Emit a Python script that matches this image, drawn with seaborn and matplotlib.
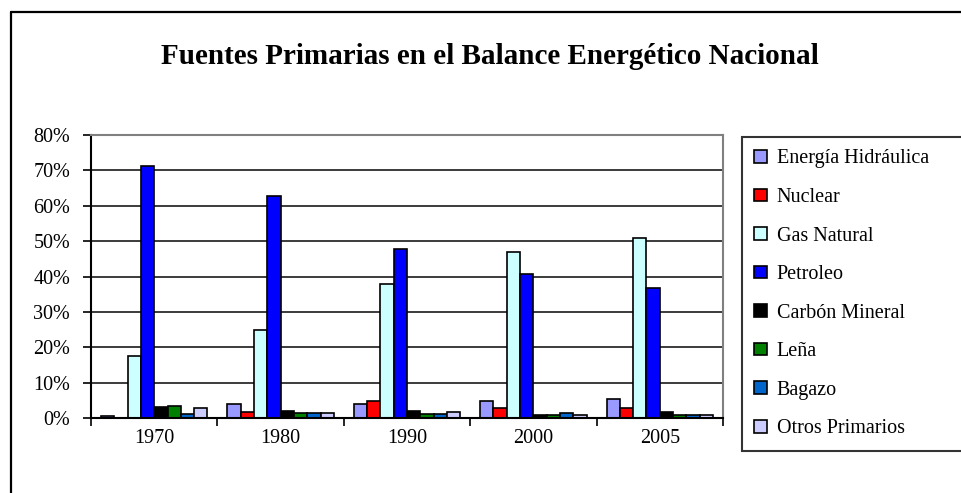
import matplotlib
matplotlib.use("Agg")
import matplotlib.pyplot as plt
import seaborn as sns
import pandas as pd
from matplotlib.lines import Line2D
from matplotlib.ticker import FuncFormatter, FixedLocator

years = ["1970", "1980", "1990", "2000", "2005"]
sources = ["Energía Hidráulica", "Nuclear", "Gas Natural", "Petroleo",
           "Carbón Mineral", "Leña", "Bagazo", "Otros Primarios"]
hidraulica = [0.5, 3.9, 3.9, 4.8, 5.3]
nuclear = [0.0, 1.8, 4.8, 2.8, 2.9]
gas_natural = [17.6, 24.9, 37.9, 46.8, 50.8]
petroleo = [71.3, 62.7, 47.9, 40.7, 36.8]
carbon = [3.0, 2.1, 2.1, 0.9, 1.6]
lena = [3.5, 1.4, 1.1, 0.9, 0.9]
bagazo = [1.0, 1.4, 1.1, 1.4, 0.9]
otros = [2.9, 1.4, 1.6, 0.9, 0.9]
colors = ["#9999FF", "#FF0000", "#CCFFFF", "#0000FF",
          "#000000", "#008000", "#0066CC", "#CCCCFF"]
title = "Fuentes Primarias en el Balance Energético Nacional"

series = [hidraulica, nuclear, gas_natural, petroleo, carbon, lena, bagazo, otros]
rows = []
for s, vals in zip(sources, series):
    for y, v in zip(years, vals):
        rows.append({"Año": y, "Fuente": s, "Valor": v})
df = pd.DataFrame(rows)

sns.set_theme(style="white")
plt.rcParams["font.family"] = ["Liberation Serif", "DejaVu Serif"]
plt.rcParams["text.color"] = "black"
plt.rcParams["xtick.color"] = "black"
plt.rcParams["ytick.color"] = "black"
plt.rcParams["axes.labelcolor"] = "black"

W, H = 961, 493
fig = plt.figure(figsize=(W / 100, H / 100), dpi=100)
ax = fig.add_axes([91 / W, 1 - 418 / H, (723 - 91) / W, (418 - 135) / H])

sns.barplot(data=df, x="Año", y="Valor", hue="Fuente", hue_order=sources,
            order=years, palette=colors, width=8 / 9.5, edgecolor="black",
            linewidth=1.2, saturation=1, ax=ax, legend=True)

ax.set_ylim(0, 80)
ax.set_xlim(-0.5, 4.5)
ax.set_xlabel("")
ax.set_ylabel("")
ax.set_yticks(range(0, 81, 10))
ax.yaxis.set_major_formatter(FuncFormatter(lambda v, p: f"{v:.0f}%"))
ax.yaxis.grid(True, color="#1a1a1a", linewidth=1.2)
ax.set_axisbelow(True)

ax.tick_params(axis="y", which="major", direction="out", length=6, width=1.2,
               color="black", pad=9, labelsize=14.5, left=True)
ax.tick_params(axis="x", which="major", length=0, pad=8, labelsize=14.5)
ax.xaxis.set_minor_locator(FixedLocator([-0.5, 0.5, 1.5, 2.5, 3.5, 4.5]))
ax.tick_params(axis="x", which="minor", direction="out", length=6, width=1.2,
               color="black", bottom=True)

for side in ["left", "bottom"]:
    ax.spines[side].set_color("black")
    ax.spines[side].set_linewidth(1.5)
for side in ["top", "right"]:
    ax.spines[side].set_color("#808080")
    ax.spines[side].set_linewidth(1.5)

handles, labels = ax.get_legend_handles_labels()
ax.get_legend().remove()
leg = fig.legend(handles, labels, loc="upper left",
                 bbox_to_anchor=(742 / W, 1 - 137 / H, (975 - 742) / W, 0),
                 mode="expand", borderaxespad=0, frameon=True, fancybox=False,
                 fontsize=14.5, handlelength=0.6, handleheight=0.6,
                 handletextpad=0.5, labelspacing=0.97, borderpad=0.62,
                 edgecolor="black")
leg.get_frame().set_linewidth(1.5)
for h in leg.legend_handles:
    h.set_edgecolor("black")
    h.set_linewidth(1.2)

fig.text(490 / W, 1 - 57 / H, title, ha="center", va="center",
         fontsize=21, fontweight="bold")

fig.add_artist(Line2D([10.5 / W, 10.5 / W], [0, 1 - 11.5 / H], color="black",
                      linewidth=1.6, transform=fig.transFigure))
fig.add_artist(Line2D([10.5 / W, 1.0], [1 - 11.5 / H, 1 - 11.5 / H], color="black",
                      linewidth=1.6, transform=fig.transFigure))

fig.savefig("out.png", dpi=100)
